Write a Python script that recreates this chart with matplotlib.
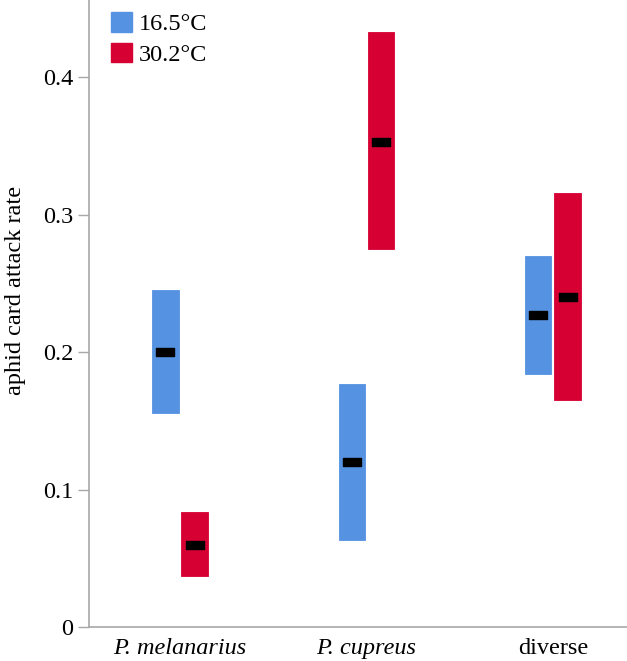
import matplotlib
matplotlib.use("Agg")
import matplotlib.pyplot as plt
from matplotlib.path import Path
from matplotlib.patches import Patch
import numpy as np

categories = ["P. melanarius", "P. cupreus", "diverse"]
temps = ["16.5°C", "30.2°C"]
mean_cold = [0.200, 0.120, 0.227]
low_cold = [0.156, 0.063, 0.184]
high_cold = [0.245, 0.177, 0.270]
mean_warm = [0.060, 0.353, 0.240]
low_warm = [0.037, 0.275, 0.165]
high_warm = [0.084, 0.433, 0.316]

blue = "#5593E2"
red = "#D60032"
axis_grey = "#A8A8A8"

plt.rcParams["font.family"] = ["Liberation Serif", "DejaVu Serif"]

fig = plt.figure(figsize=(6.27, 6.61), dpi=100)
ax = fig.add_axes([89 / 627, 34 / 661, 538 / 627, 627 / 661])

x = np.arange(len(categories))
offset = 0.078
width = 0.14

rect = Path([(-1, -0.42), (1, -0.42), (1, 0.42), (-1, 0.42), (-1, -0.42)],
            [Path.MOVETO, Path.LINETO, Path.LINETO, Path.LINETO, Path.CLOSEPOLY])

for means, lows, highs, col, sgn in [(mean_cold, low_cold, high_cold, blue, -1),
                                     (mean_warm, low_warm, high_warm, red, 1)]:
    lows_a = np.array(lows)
    highs_a = np.array(highs)
    xp = x + sgn * offset
    ax.bar(xp, highs_a - lows_a, bottom=lows_a, width=width, color=col,
           edgecolor=col, linewidth=0.6, zorder=2)
    ax.plot(xp, means, linestyle="none", marker=rect, markersize=12.5,
            color="black", zorder=3)

ax.set_xlim(-0.488, 2.397)
ax.set_ylim(0, 0.456)
ax.set_yticks([0, 0.1, 0.2, 0.3, 0.4])
ax.set_yticklabels(["0", "0.1", "0.2", "0.3", "0.4"])
ax.set_xticks(x)
ax.set_xticklabels(categories)
for lbl, it in zip(ax.get_xticklabels(), [True, True, False]):
    if it:
        lbl.set_fontstyle("italic")

for s in ["top", "right"]:
    ax.spines[s].set_visible(False)
for s in ["left", "bottom"]:
    ax.spines[s].set_color(axis_grey)
    ax.spines[s].set_linewidth(1.2)

ax.tick_params(axis="y", direction="out", length=8, width=1, color=axis_grey,
               labelsize=17.5, pad=3.5)
ax.tick_params(axis="x", length=0, labelsize=17.5, pad=8)
ax.set_ylabel("aphid card attack rate", fontsize=17.5)
ax.yaxis.set_label_coords(-0.118, 0.536)

handles = [Patch(facecolor=blue, edgecolor=blue), Patch(facecolor=red, edgecolor=red)]
ax.legend(handles, temps, loc="upper left", bbox_to_anchor=(0.009, 1.008),
          frameon=False, fontsize=17.5, handlelength=0.87, handleheight=0.87,
          handletextpad=0.3, labelspacing=0.3, borderaxespad=0.3)

fig.savefig("out.png", dpi=100)
